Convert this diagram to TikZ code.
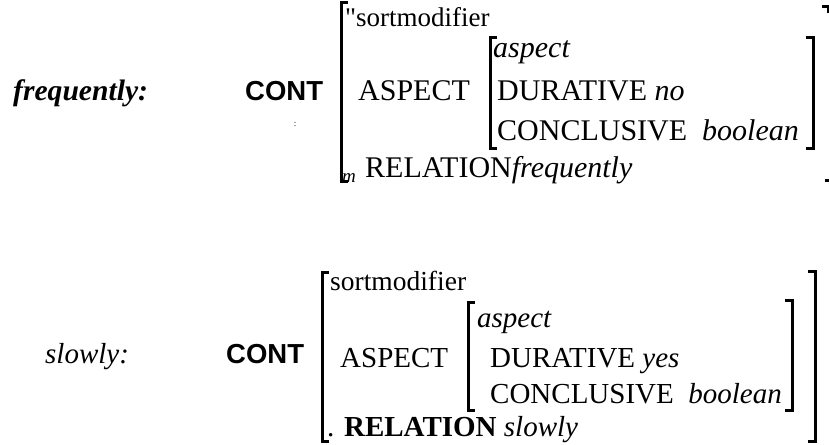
\documentclass[tikz,border=0pt]{standalone}
\usepackage{fontspec}
\setmainfont{Liberation Serif}
\newfontfamily\contfont{Liberation Sans}
% same face without the TeX quote mapping, for a straight double quote
\newfontfamily\straightq{Liberation Serif}[Ligatures=ResetAll]
\begin{document}
\begin{tikzpicture}[x=1pt,y=-1pt,
  txt/.style={inner sep=0pt, anchor=base west, font=\fontsize{30}{32}\selectfont},
  txtb/.style={inner sep=0pt, anchor=base west, font=\fontsize{29}{31}\selectfont},
  sortline/.style={inner sep=0pt, anchor=base west, font=\fontsize{27}{30}\selectfont},
  head/.style={inner sep=0pt, anchor=base west, font=\fontsize{27.5}{30}\selectfont\contfont\bfseries},
  sub/.style={inner sep=0pt, anchor=base west, font=\fontsize{19}{20}\selectfont\itshape},
  brk/.style={line width=3pt, line cap=butt, line join=miter}]
\useasboundingbox (0,0) rectangle (829,444);

% ---- frequently ----
\node[txt, font=\fontsize{29.6}{32}\selectfont\bfseries\itshape] (fw) at (13,100) {frequently:};
\node[head] (fc) at (245,100) {CONT};
\node[inner sep=0pt, font=\fontsize{9}{9}\selectfont] (fdot) at (295,124) {:};
\node[sortline] (fs) at (345,27) {{\straightq\char34}sortmodifier};
\node[txt] (fa) at (358,100) {ASPECT};
\node[txt, font=\fontsize{30}{32}\selectfont\itshape] (fat) at (493,57) {aspect};
\node[txt] (fd) at (497,100) {DURATIVE \textit{no}};
\node[txt] (fcl) at (497,140) {CONCLUSIVE\ \ \textit{boolean}};
\node[sub] (fm) at (342,182) {m};
\node[txt] (fr) at (365,177) {RELATION\textit{frequently}};

% outer bracket (left) and its right-hand remains
\draw[brk] (348,3) -- (341,3) -- (341,181) -- (348,181);
\draw[brk] (822,7) -- (828,7) -- (828,13);
\draw[brk] (825,180) -- (829,180);
% inner bracket
\draw[brk] (497,38) -- (490,38) -- (490,148) -- (497,148);
\draw[brk] (806,38) -- (813,38) -- (813,148) -- (806,148);

% ---- slowly ----
\node[txtb, font=\fontsize{29}{31}\selectfont\itshape] (sw) at (45,363) {slowly:};
\node[head] (sc) at (226,363) {CONT};
\node[sortline, font=\fontsize{27.5}{30}\selectfont] (ss) at (330,290) {sortmodifier};
\node[txtb] (sa) at (340,367) {ASPECT};
\node[txtb, font=\fontsize{29}{31}\selectfont\itshape] (sat) at (477,327) {aspect};
\node[txtb] (sd) at (490,367) {DURATIVE \textit{yes}};
\node[txtb] (scl) at (490,403) {CONCLUSIVE\ \ \textit{boolean}};
\node[txtb] (sr) at (327,436) {. \textbf{RELATION} \textit{slowly}};

% outer bracket
\draw[brk] (329,272) -- (322,272) -- (322,441) -- (329,441);
\draw[brk] (808,271) -- (815,271) -- (815,441) -- (808,441);
% inner bracket
\draw[brk] (475,302) -- (468,302) -- (468,410) -- (475,410);
\draw[brk] (785,300) -- (792,300) -- (792,410) -- (785,410);
\end{tikzpicture}
\end{document}
